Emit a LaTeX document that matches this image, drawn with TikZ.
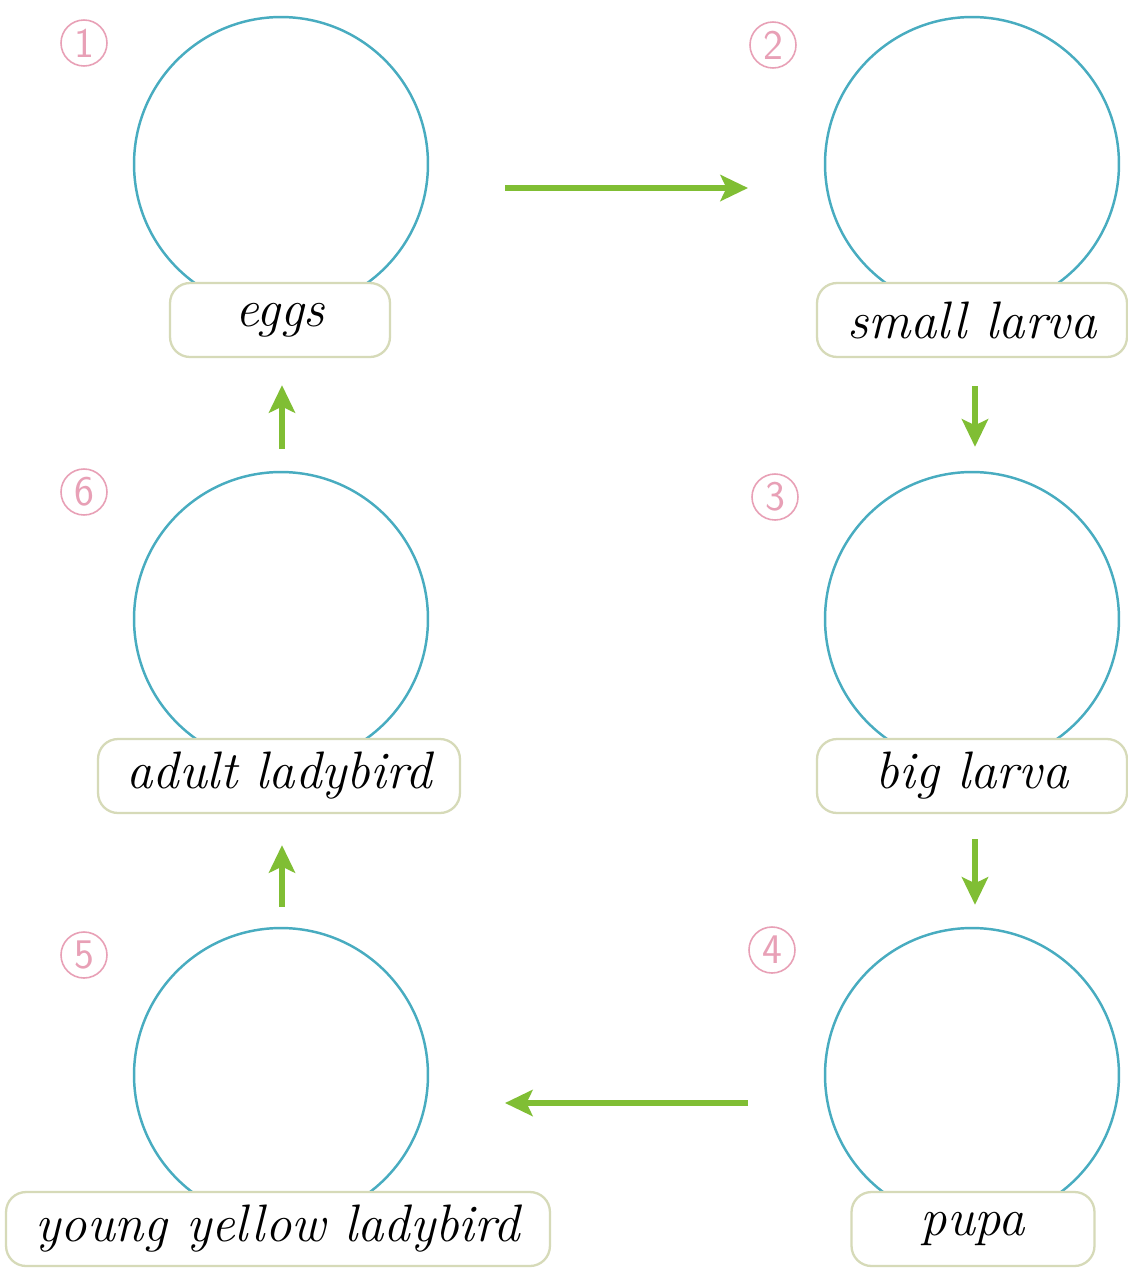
\documentclass[tikz,border=0pt]{standalone}
\usetikzlibrary{arrows.meta}
\definecolor{ringc}{RGB}{72,172,192}
\definecolor{boxc}{RGB}{214,218,184}
\definecolor{arrc}{RGB}{128,190,52}
\definecolor{numc}{RGB}{232,160,182}
\begin{document}
\begin{tikzpicture}[x=0.02cm,y=-0.02cm,
  ring/.style={circle, draw=ringc, line width=1.4pt, minimum size=5.88cm, inner sep=0pt},
  labelbox/.style={draw=boxc, fill=white, line width=1.3pt, rounded corners=0.4cm,
    minimum height=1.48cm, inner sep=0pt, font=\fontsize{30}{34}\selectfont\itshape},
  numc/.style={circle, draw=numc, line width=0.9pt, minimum size=0.92cm, inner sep=0pt,
    text=numc, font=\fontsize{24}{26}\selectfont\sffamily},
  flow/.style={draw=arrc, line width=3.4pt, -{Stealth[length=0.55cm,width=0.52cm,inset=0.12cm]}}]
\useasboundingbox[fill=white] (0,0) rectangle (1128,1272);
% circles
\node[ring] (c1) at (281,164) {};
\node[ring] (c2) at (972,164) {};
\node[ring] (c3) at (972,619) {};
\node[ring] (c6) at (281,619) {};
\node[ring] (c4) at (972,1075) {};
\node[ring] (c5) at (281,1075) {};
% label boxes
\node[labelbox, minimum width=4.4cm] (b1) at (280,320) {eggs};
\node[labelbox, minimum width=6.2cm] (b2) at (972,320) {small larva};
\node[labelbox, minimum width=6.2cm] (b3) at (972,776) {big larva};
\node[labelbox, minimum width=7.24cm] (b6) at (279,776) {adult ladybird};
\node[labelbox, minimum width=10.88cm] (b5) at (278,1229) {young yellow ladybird};
\node[labelbox, minimum width=4.86cm] (b4) at (973,1229) {pupa};
% numbers
\node[numc] (n1) at (84,43) {1};
\node[numc] (n2) at (773,45) {2};
\node[numc] (n3) at (775,497) {3};
\node[numc] (n4) at (772,950) {4};
\node[numc] (n5) at (84,955) {5};
\node[numc] (n6) at (84,492) {6};
% arrows
\draw[flow] ([shift={(224,24)}]c1.center) -- ([shift={(-224,24)}]c2.center);
\draw[flow] ([shift={(3,28)}]b2.south) -- ([shift={(3,-24)}]c3.north);
\draw[flow] ([shift={(3,25)}]b3.south) -- ([shift={(3,-22)}]c4.north);
\draw[flow] ([shift={(-224,28)}]c4.center) -- ([shift={(224,28)}]c5.center);
\draw[flow] ([shift={(1,-20)}]c5.north) -- ([shift={(3,31)}]b6.south);
\draw[flow] ([shift={(1,-22)}]c6.north) -- ([shift={(2,27)}]b1.south);
\end{tikzpicture}
\end{document}
